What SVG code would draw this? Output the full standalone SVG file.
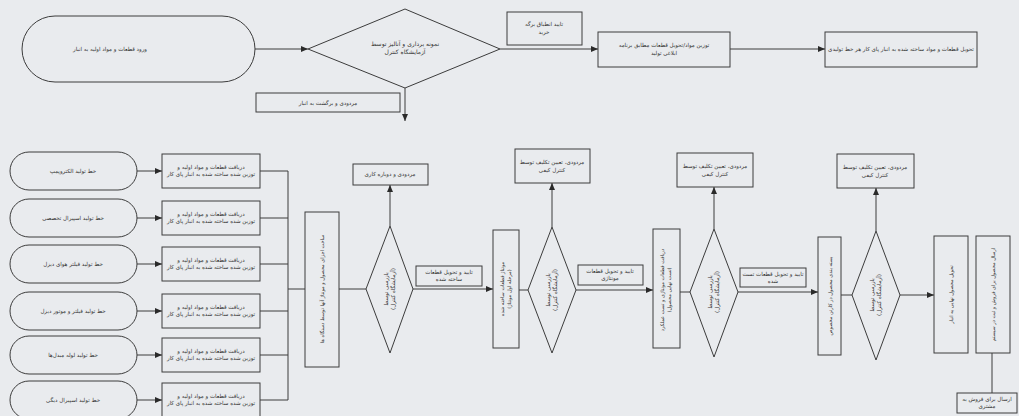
<svg xmlns="http://www.w3.org/2000/svg" width="1019" height="416" viewBox="0 0 1019 416">
<style>
.bg{fill:#e9ebee}
.s{fill:#e9ebee;stroke:#3c3c3c;stroke-width:1}
.c{fill:none;stroke:#3c3c3c;stroke-width:1}
.a{marker-end:url(#ah)}
.t{font-family:"DejaVu Sans","Noto Sans",sans-serif;font-size:5.5px;fill:#333;text-anchor:middle}
.v{font-size:5px}
</style>
<defs>
<marker id="ah" markerWidth="7" markerHeight="6" refX="7" refY="3" orient="auto" markerUnits="userSpaceOnUse">
<path d="M0,0 L7,3 L0,6 z" fill="#2a2a2a"/>
</marker>
</defs>
<rect class="bg" x="0" y="0" width="1019" height="416"/>

<g id="connectors">
<line class="c a" x1="255" y1="49" x2="308" y2="49"/>
<line class="c a" x1="405" y1="88" x2="405" y2="121"/>
<line class="c a" x1="500" y1="49" x2="598" y2="49"/>
<line class="c a" x1="730" y1="49" x2="825" y2="49"/>
<line class="c a" x1="137" y1="171" x2="162" y2="171"/>
<line class="c a" x1="137" y1="218" x2="162" y2="218"/>
<line class="c a" x1="137" y1="264" x2="162" y2="264"/>
<line class="c a" x1="137" y1="311" x2="162" y2="311"/>
<line class="c a" x1="137" y1="355" x2="162" y2="355"/>
<line class="c a" x1="137" y1="400" x2="162" y2="400"/>
<line class="c" x1="260" y1="171" x2="288" y2="171"/>
<line class="c" x1="260" y1="218" x2="288" y2="218"/>
<line class="c" x1="260" y1="264" x2="288" y2="264"/>
<line class="c" x1="260" y1="311" x2="288" y2="311"/>
<line class="c" x1="260" y1="355" x2="288" y2="355"/>
<line class="c" x1="260" y1="400" x2="288" y2="400"/>
<line class="c" x1="288" y1="171" x2="288" y2="400"/>
<line class="c" x1="288" y1="289" x2="305" y2="289"/>
<line class="c" x1="339" y1="289" x2="366" y2="289"/>
<line class="c a" x1="390" y1="226" x2="390" y2="185"/>
<line class="c a" x1="413" y1="289" x2="493" y2="289"/>
<line class="c" x1="519" y1="290" x2="528" y2="290"/>
<line class="c a" x1="552" y1="227" x2="552" y2="183"/>
<line class="c a" x1="576" y1="290" x2="653" y2="290"/>
<line class="c" x1="680" y1="292" x2="690" y2="292"/>
<line class="c a" x1="714" y1="229" x2="714" y2="187"/>
<line class="c a" x1="738" y1="292" x2="818" y2="292"/>
<line class="c" x1="841" y1="295" x2="852" y2="295"/>
<line class="c a" x1="876" y1="231" x2="876" y2="188"/>
<line class="c a" x1="900" y1="295" x2="934" y2="295"/>
<line class="c" x1="992" y1="353" x2="992" y2="393"/>
</g>

<g id="start">
<rect class="s" x="22" y="16" width="233" height="66" rx="33"/>
<text class="t" x="110" y="51">ورود قطعات و مواد اولیه به انبار</text>
</g>
<g id="d0">
<polygon class="s" points="308,49 405,9 500,49 405,88"/>
<text class="t" x="405" y="46" style="font-size:6px">نمونه برداری و آنالیز توسط</text>
<text class="t" x="405" y="54" style="font-size:6px">آزمایشگاه کنترل</text>
</g>
<g id="lbl-reject0">
<rect class="s" x="256" y="93" width="144" height="19"/>
<text class="t" x="328" y="105">مردودی و برگشت به انبار</text>
</g>
<g id="lbl-accept0">
<rect class="s" x="507" y="12" width="75" height="33"/>
<text class="t" x="544" y="26">تایید انطباق برگه</text>
<text class="t" x="544" y="34">خرید</text>
</g>
<g id="b1">
<rect class="s" x="598" y="32" width="132" height="35"/>
<text class="t" x="664" y="47">توزین مواد/تحویل قطعات مطابق برنامه</text>
<text class="t" x="664" y="55">ابلاغی تولید</text>
</g>
<g id="b2">
<rect class="s" x="825" y="32" width="152" height="35"/>
<text class="t" x="901" y="51">تحویل قطعات و مواد ساخته شده به انبار پای کار هر خط تولیدی</text>
</g>

<g id="line1"><rect class="s" x="10" y="152" width="127" height="38" rx="19"/><text class="t" x="73" y="173">خط تولید الکتروپمپ</text></g>
<g id="line2"><rect class="s" x="10" y="199" width="127" height="38" rx="19"/><text class="t" x="73" y="220">خط تولید اسپیرال تخصصی</text></g>
<g id="line3"><rect class="s" x="10" y="245" width="127" height="38" rx="19"/><text class="t" x="73" y="266">خط تولید فیلتر هوای دیزل</text></g>
<g id="line4"><rect class="s" x="10" y="292" width="127" height="38" rx="19"/><text class="t" x="73" y="313">خط تولید فیلتر و موتور دیزل</text></g>
<g id="line5"><rect class="s" x="10" y="336" width="127" height="38" rx="19"/><text class="t" x="73" y="357">خط تولید لوله مبدل‌ها</text></g>
<g id="line6"><rect class="s" x="10" y="381" width="127" height="38" rx="19"/><text class="t" x="73" y="402">خط تولید اسپیرال دیگی</text></g>

<g id="recv1"><rect class="s" x="162" y="154" width="98" height="34"/><text class="t" x="211" y="169">دریافت قطعات و مواد اولیه و</text><text class="t" x="211" y="176">توزین شده ساخته شده به انبار پای کار</text></g>
<g id="recv2"><rect class="s" x="162" y="201" width="98" height="34"/><text class="t" x="211" y="216">دریافت قطعات و مواد اولیه و</text><text class="t" x="211" y="223">توزین شده ساخته شده به انبار پای کار</text></g>
<g id="recv3"><rect class="s" x="162" y="247" width="98" height="34"/><text class="t" x="211" y="262">دریافت قطعات و مواد اولیه و</text><text class="t" x="211" y="269">توزین شده ساخته شده به انبار پای کار</text></g>
<g id="recv4"><rect class="s" x="162" y="294" width="98" height="34"/><text class="t" x="211" y="309">دریافت قطعات و مواد اولیه و</text><text class="t" x="211" y="316">توزین شده ساخته شده به انبار پای کار</text></g>
<g id="recv5"><rect class="s" x="162" y="338" width="98" height="34"/><text class="t" x="211" y="353">دریافت قطعات و مواد اولیه و</text><text class="t" x="211" y="360">توزین شده ساخته شده به انبار پای کار</text></g>
<g id="recv6"><rect class="s" x="162" y="383" width="98" height="34"/><text class="t" x="211" y="398">دریافت قطعات و مواد اولیه و</text><text class="t" x="211" y="405">توزین شده ساخته شده به انبار پای کار</text></g>

<g id="vb1">
<rect class="s" x="305" y="212" width="34" height="155"/>
<text class="t v" x="322" y="291" transform="rotate(-90 322 289)">ساخت اجزای محصول و مونتاژ آنها توسط دستگاه ها</text>
</g>
<g id="dd1">
<polygon class="s" points="366,289 390,226 413,289 390,353"/>
<text class="t" x="390" y="287" transform="rotate(-90 390 289)">بازرسی توسط</text>
<text class="t" x="390" y="294" transform="rotate(-90 390 289)">(آزمایشگاه کنترل)</text>
</g>
<g id="lbl-r1"><rect class="s" x="353" y="164" width="75" height="21"/><text class="t" x="390" y="176">مردودی و دوباره کاری</text></g>
<g id="lbl-a1"><rect class="s" x="416" y="266" width="66" height="20"/><text class="t" x="449" y="274">تایید و تحویل قطعات</text><text class="t" x="449" y="281">ساخته شده</text></g>

<g id="vb2">
<rect class="s" x="493" y="230" width="26" height="118"/>
<text class="t v" x="506" y="287" transform="rotate(-90 506 289)">مونتاژ قطعات ساخته شده</text>
<text class="t v" x="506" y="294" transform="rotate(-90 506 289)">(مرحله اول مونتاژ)</text>
</g>
<g id="dd2">
<polygon class="s" points="528,290 552,227 576,290 552,353"/>
<text class="t" x="552" y="288" transform="rotate(-90 552 290)">بازرسی توسط</text>
<text class="t" x="552" y="295" transform="rotate(-90 552 290)">(آزمایشگاه کنترل)</text>
</g>
<g id="lbl-r2"><rect class="s" x="515" y="149" width="75" height="34"/><text class="t" x="552" y="164">مردودی، تعیین تکلیف توسط</text><text class="t" x="552" y="172">کنترل کیفی</text></g>
<g id="lbl-a2"><rect class="s" x="578" y="265" width="65" height="20"/><text class="t" x="610" y="273">تایید و تحویل قطعات</text><text class="t" x="610" y="280">مونتاژی</text></g>

<g id="vb3">
<rect class="s" x="653" y="229" width="27" height="119"/>
<text class="t v" x="666" y="288" transform="rotate(-90 666 290)">دریافت قطعات مونتاژی و تست عملکرد</text>
<text class="t v" x="666" y="295" transform="rotate(-90 666 290)">(تست نهایی محصول)</text>
</g>
<g id="dd3">
<polygon class="s" points="690,292 714,229 738,292 714,357"/>
<text class="t" x="714" y="290" transform="rotate(-90 714 292)">بازرسی توسط</text>
<text class="t" x="714" y="297" transform="rotate(-90 714 292)">(آزمایشگاه کنترل)</text>
</g>
<g id="lbl-r3"><rect class="s" x="677" y="153" width="76" height="34"/><text class="t" x="715" y="168">مردودی، تعیین تکلیف توسط</text><text class="t" x="715" y="176">کنترل کیفی</text></g>
<g id="lbl-a3"><rect class="s" x="740" y="268" width="66" height="19"/><text class="t" x="773" y="276">تایید و تحویل قطعات تست</text><text class="t" x="773" y="283">شده</text></g>

<g id="vb4">
<rect class="s" x="818" y="237" width="23" height="118"/>
<text class="t v" x="829.5" y="298" transform="rotate(-90 829.5 296)">بسته بندی محصول در کارتن مخصوص</text>
</g>
<g id="dd4">
<polygon class="s" points="852,295 876,231 900,295 876,360"/>
<text class="t" x="876" y="293" transform="rotate(-90 876 295)">بازرسی توسط</text>
<text class="t" x="876" y="300" transform="rotate(-90 876 295)">(آزمایشگاه کنترل)</text>
</g>
<g id="lbl-r4"><rect class="s" x="837" y="154" width="77" height="34"/><text class="t" x="875" y="169">مردودی، تعیین تکلیف توسط</text><text class="t" x="875" y="177">کنترل کیفی</text></g>

<g id="vb5">
<rect class="s" x="934" y="236" width="34" height="117"/>
<text class="t v" x="951" y="296.5" transform="rotate(-90 951 294.5)">تحویل محصول نهایی به انبار</text>
</g>
<g id="vb6">
<rect class="s" x="976" y="236" width="34" height="117"/>
<text class="t v" x="993" y="296.5" transform="rotate(-90 993 294.5)">ارسال محصول برای فروش و ثبت در سیستم</text>
</g>
<g id="final">
<rect class="s" x="957" y="393" width="60" height="20"/>
<text class="t" x="987" y="401">ارسال برای فروش به</text>
<text class="t" x="987" y="408">مشتری</text>
</g>
</svg>
